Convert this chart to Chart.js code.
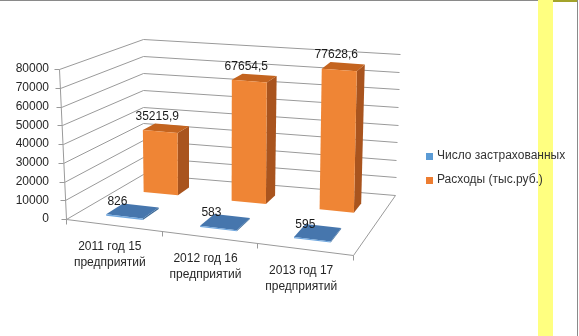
<!DOCTYPE html>
<html>
<head>
<meta charset="utf-8">
<script src="https://cdn.jsdelivr.net/npm/chart.js@4/dist/chart.umd.min.js"></script>
<style>
  html, body { margin: 0; padding: 0; background: #fff; }
  #wrap { position: relative; width: 579px; height: 336px; overflow: hidden; }
  #strip { position: absolute; left: 538px; top: 0; width: 15px; height: 336px; background: #ffff80; }
  #topline { position: absolute; left: 0; top: 0; width: 538px; height: 1px; background: #8a8a8a; }
  #topline2 { position: absolute; left: 553px; top: 0; width: 24px; height: 2px; background: #a3a32a; }
  #rightline { position: absolute; left: 577px; top: 0; width: 1px; height: 336px; background: #8a8a8a; }
  canvas { position: absolute; left: 0; top: 0; }
</style>
</head>
<body>
<div id="wrap">
  <div id="strip"></div>
  <div id="topline"></div>
  <div id="topline2"></div>
  <div id="rightline"></div>
  <canvas id="chart" width="579" height="336"></canvas>
</div>
<script>
// data
const categories = [["2011 год 15", "предприятий"], ["2012 год 16", "предприятий"], ["2013 год 17", "предприятий"]];
const seriesNames = ["Число застрахованных", "Расходы (тыс.руб.)"];
const insured = [826, 583, 595];
const expenses = [35215.9, 67654.5, 77628.6];
const yMax = 80000;
const yStep = 10000;

// 3D box corners of the plot (front/back, left/right, bottom/top)
const box = {
    FLB: [66, 219], FRB: [353, 255], BLB: [143, 174], BRB: [395, 195],
    FLT: [59, 69],  FRT: [354, 98],  BLT: [143, 39],  BRT: [400, 54]
};
// depth slot of each series row (front row first)
const depth = [[0.15, 0.38], [0.66, 0.82]];
const labelShift = [-7, -3];
const faces = [
    { front: "#6ea6de", side: "#3a6896", top: "#4676ad" },
    { front: "#ef8535", side: "#a9541e", top: "#c4641f" }
];
const legendColors = ["#5b9bd5", "#ed7d31"];
const gridColor = "#9a9a9a";

function lerp(a, b, t) {
    return [a[0] + (b[0] - a[0]) * t, a[1] + (b[1] - a[1]) * t];
}
function proj(u, w, v) {
    const fb = lerp(box.FLB, box.FRB, u), ft = lerp(box.FLT, box.FRT, u);
    const bb = lerp(box.BLB, box.BRB, u), bt = lerp(box.BLT, box.BRT, u);
    return lerp(lerp(fb, bb, w), lerp(ft, bt, w), v);
}
function poly(ctx, pts, fill) {
    ctx.beginPath();
    ctx.moveTo(pts[0][0], pts[0][1]);
    for (let i = 1; i < pts.length; i++) ctx.lineTo(pts[i][0], pts[i][1]);
    ctx.closePath();
    ctx.fillStyle = fill;
    ctx.fill();
}
function line(ctx, a, b) {
    ctx.beginPath();
    ctx.moveTo(Math.round(a[0]) + 0.5, Math.round(a[1]) + 0.5);
    ctx.lineTo(Math.round(b[0]) + 0.5, Math.round(b[1]) + 0.5);
    ctx.stroke();
}
function fmt(n) {
    return String(n).replace(".", ",");
}

const threeD = {
    id: "threeD",
    beforeDatasetsDraw(chart) {
        const ctx = chart.ctx;
        const xs = chart.scales.x, ys = chart.scales.y;
        const vOf = (px) => (ys.bottom - px) / (ys.bottom - ys.top);
        ctx.save();

        // walls: grid lines on the left and back walls
        ctx.strokeStyle = gridColor;
        ctx.lineWidth = 1;
        ys.ticks.forEach(t => {
            const v = vOf(ys.getPixelForValue(t.value));
            line(ctx, proj(0, 0, v), proj(0, 1, v));
            line(ctx, proj(0, 1, v), proj(1, 1, v));
            const p = proj(0, 0, v);
            line(ctx, [p[0] - 5, p[1]], p);
        });
        // axis and floor edges
        line(ctx, proj(0, 0, 0), proj(0, 0, 1));
        line(ctx, proj(0, 0, 0), proj(1, 0, 0));
        line(ctx, proj(1, 0, 0), proj(1, 1, 0));
        for (let i = 0; i <= categories.length; i++) {
            const p = proj(i / categories.length, 0, 0);
            line(ctx, p, [p[0], p[1] + 5]);
        }

        // bars, back row first
        const labels = [];
        for (let d = chart.data.datasets.length - 1; d >= 0; d--) {
            const meta = chart.getDatasetMeta(d);
            const [wf, wb] = depth[d];
            meta.data.forEach((el, i) => {
                const { x, y, width } = el.getProps(["x", "y", "width"], true);
                const uc = (x - xs.left) / xs.width;
                const hw = width / 2 / xs.width;
                const u0 = uc - hw, u1 = uc + hw;
                const vt = vOf(y);
                poly(ctx, [proj(u1, wf, 0), proj(u1, wb, 0), proj(u1, wb, vt), proj(u1, wf, vt)], faces[d].side);
                poly(ctx, [proj(u0, wf, vt), proj(u1, wf, vt), proj(u1, wb, vt), proj(u0, wb, vt)], faces[d].top);
                poly(ctx, [proj(u0, wf, 0), proj(u1, wf, 0), proj(u1, wf, vt), proj(u0, wf, vt)], faces[d].front);
                const a = proj(uc, wf, vt);
                labels.push([fmt(chart.data.datasets[d].data[i]), a[0] + labelShift[d], a[1] - 15]);
            });
        }

        // data labels
        ctx.fillStyle = "#1a1a1a";
        ctx.font = "12px 'Liberation Sans', Arial, sans-serif";
        ctx.textAlign = "center";
        ctx.textBaseline = "middle";
        labels.forEach(l => ctx.fillText(l[0], l[1], l[2]));

        // category labels along the front floor edge
        ctx.fillStyle = "#262626";
        chart.data.labels.forEach((lab, i) => {
            const x = xs.getPixelForValue(i);
            const a = proj((x - xs.left) / xs.width, 0, 0);
            lab.forEach((s, k) => ctx.fillText(s, a[0] - 4, a[1] + 22 + k * 16));
        });

        // legend
        ctx.textAlign = "left";
        chart.data.datasets.forEach((ds, d) => {
            const ly = 156 + d * 24;
            ctx.fillStyle = legendColors[d];
            ctx.fillRect(426, ly - 3, 7, 7);
            ctx.fillStyle = "#333";
            ctx.fillText(ds.label, 437, ly);
        });
        ctx.restore();
        return false;
    }
};

new Chart(document.getElementById("chart").getContext("2d"), {
    type: "bar",
    data: {
        labels: categories,
        datasets: [
            { label: seriesNames[0], data: insured, backgroundColor: legendColors[0] },
            { label: seriesNames[1], data: expenses, backgroundColor: legendColors[1] }
        ]
    },
    options: {
        responsive: false,
        animation: false,
        devicePixelRatio: 1,
        layout: { padding: { left: 0, top: 69, right: 225, bottom: 117 } },
        datasets: { bar: { grouped: false, categoryPercentage: 0.39, barPercentage: 1 } },
        plugins: { legend: { display: false }, tooltip: { enabled: false } },
        scales: {
            x: { display: false },
            y: {
                min: 0,
                max: yMax,
                ticks: { stepSize: yStep, padding: 14, color: "#262626",
                         font: { family: "'Liberation Sans', Arial, sans-serif", size: 12 },
                         callback: (v) => String(v) },
                grid: { display: false, drawTicks: false },
                border: { display: false },
                afterFit(s) { s.width = 63; }
            }
        }
    },
    plugins: [threeD]
});
</script>
</body>
</html>
